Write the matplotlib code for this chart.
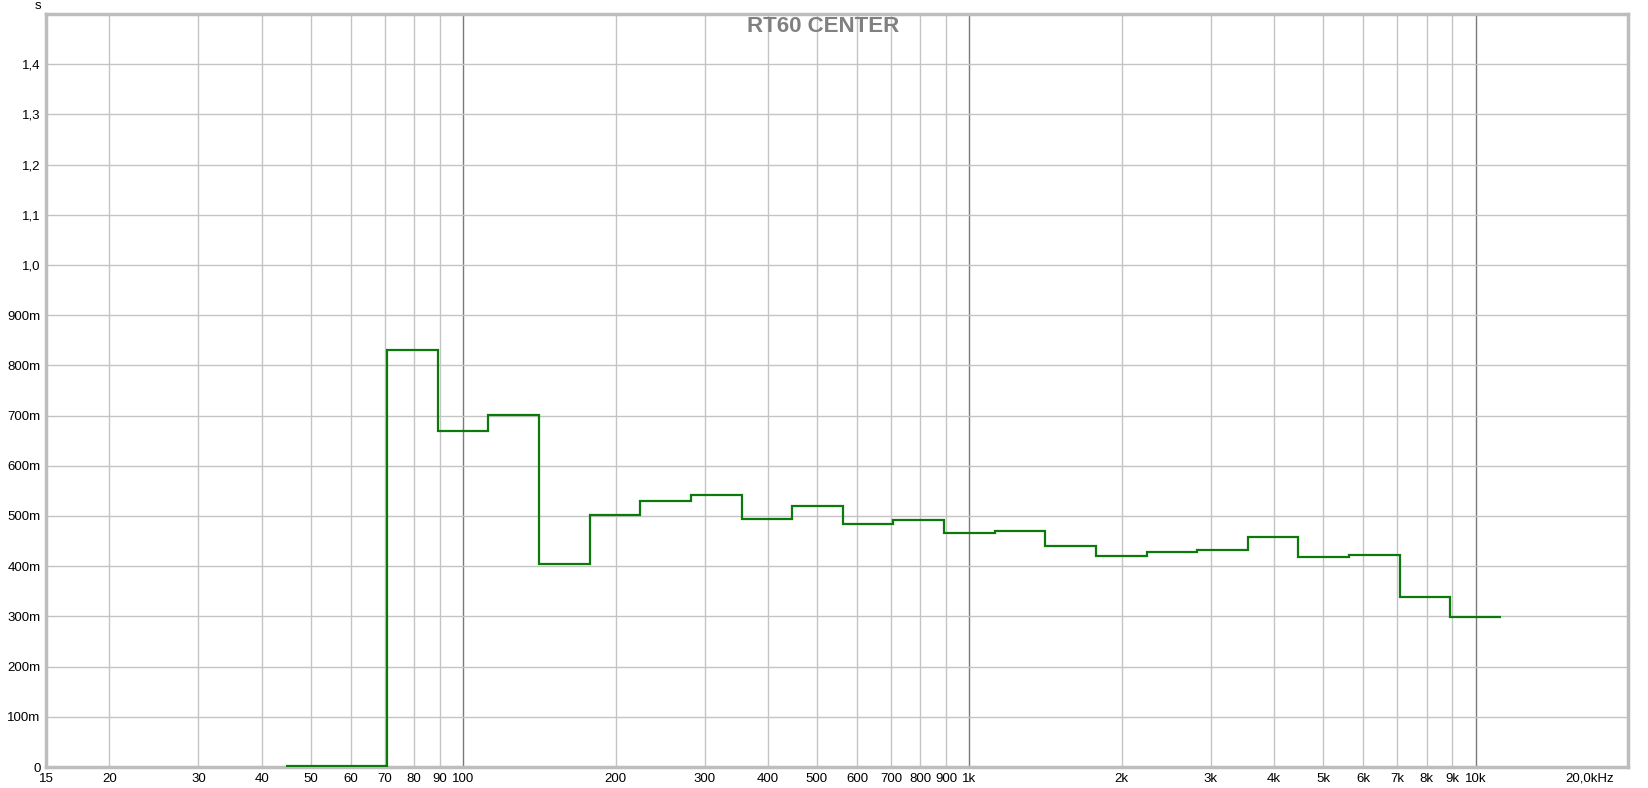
import matplotlib.pyplot as plt
import matplotlib.transforms as mtransforms

# third-octave band edges (Hz) and RT60 per band (s)
band_edges = [44.7, 56.2, 70.8, 89.1, 112, 141, 178, 224, 282, 355, 447, 562,
              708, 891, 1122, 1413, 1778, 2239, 2818, 3548, 4467, 5623, 7079,
              8913, 11220]
rt60 = [0.002, 0.002, 0.830, 0.670, 0.701, 0.405, 0.501, 0.529, 0.542, 0.494,
        0.519, 0.485, 0.493, 0.467, 0.470, 0.441, 0.421, 0.429, 0.433, 0.459,
        0.419, 0.423, 0.338, 0.298]

x_ticks = [15, 20, 30, 40, 50, 60, 70, 80, 90, 100, 200, 300, 400, 500, 600,
           700, 800, 900, 1000, 2000, 3000, 4000, 5000, 6000, 7000, 8000, 9000,
           10000]
x_labels = ["15", "20", "30", "40", "50", "60", "70", "80", "90", "100", "200",
            "300", "400", "500", "600", "700", "800", "900", "1k", "2k", "3k",
            "4k", "5k", "6k", "7k", "8k", "9k", "10k"]
y_ticks = [0, 0.1, 0.2, 0.3, 0.4, 0.5, 0.6, 0.7, 0.8, 0.9, 1.0, 1.1, 1.2, 1.3, 1.4]
y_labels = ["0", "100m", "200m", "300m", "400m", "500m", "600m", "700m", "800m",
            "900m", "1,0", "1,1", "1,2", "1,3", "1,4"]
decades = [100, 1000, 10000]

plt.rcParams['font.family'] = ['Liberation Sans', 'DejaVu Sans']

fig = plt.figure(figsize=(16.49, 7.88), dpi=100)
ax = fig.add_axes([46 / 1649, 21 / 788, 1582 / 1649, 753 / 788])

ax.set_xscale('log')
ax.set_xlim(15, 20000)
ax.set_ylim(0, 1.5)

# grid
for f in x_ticks[1:]:
    col = '#7a7a7a' if f in decades else '#c4c4c4'
    ax.axvline(f, color=col, lw=1, zorder=1)
for v in y_ticks[1:]:
    ax.axhline(v, color='#c4c4c4', lw=1, zorder=1)

ax.stairs(rt60, band_edges, baseline=None, color='#0a7a0a', lw=1.6, zorder=3)

ax.set_xticks(x_ticks)
ax.set_xticklabels(x_labels)
ax.xaxis.set_minor_locator(plt.NullLocator())
ax.set_yticks(y_ticks)
ax.set_yticklabels(y_labels)
ax.tick_params(axis='both', length=0, labelsize=9.5, colors='black')
ax.tick_params(axis='x', pad=4)
ax.tick_params(axis='y', pad=4)

trans = mtransforms.blended_transform_factory(ax.transData, ax.transAxes)
ax.annotate("20,0kHz", xy=(20000, 0), xycoords=trans, xytext=(-10, -4),
            textcoords='offset points', ha='right', va='top', fontsize=9.5)

for s in ax.spines.values():
    s.set_color('#bdbdbd')
    s.set_linewidth(2.5)

fig.text(823 / 1649, 1 - 26 / 788, "RT60 CENTER", ha='center', va='center',
         fontsize=16, fontweight='bold', color='#808080')
fig.text(38 / 1649, 1 - 6 / 788, "s", ha='center', va='center', fontsize=9.5)

fig.savefig("out.png", dpi=100, facecolor='white')
